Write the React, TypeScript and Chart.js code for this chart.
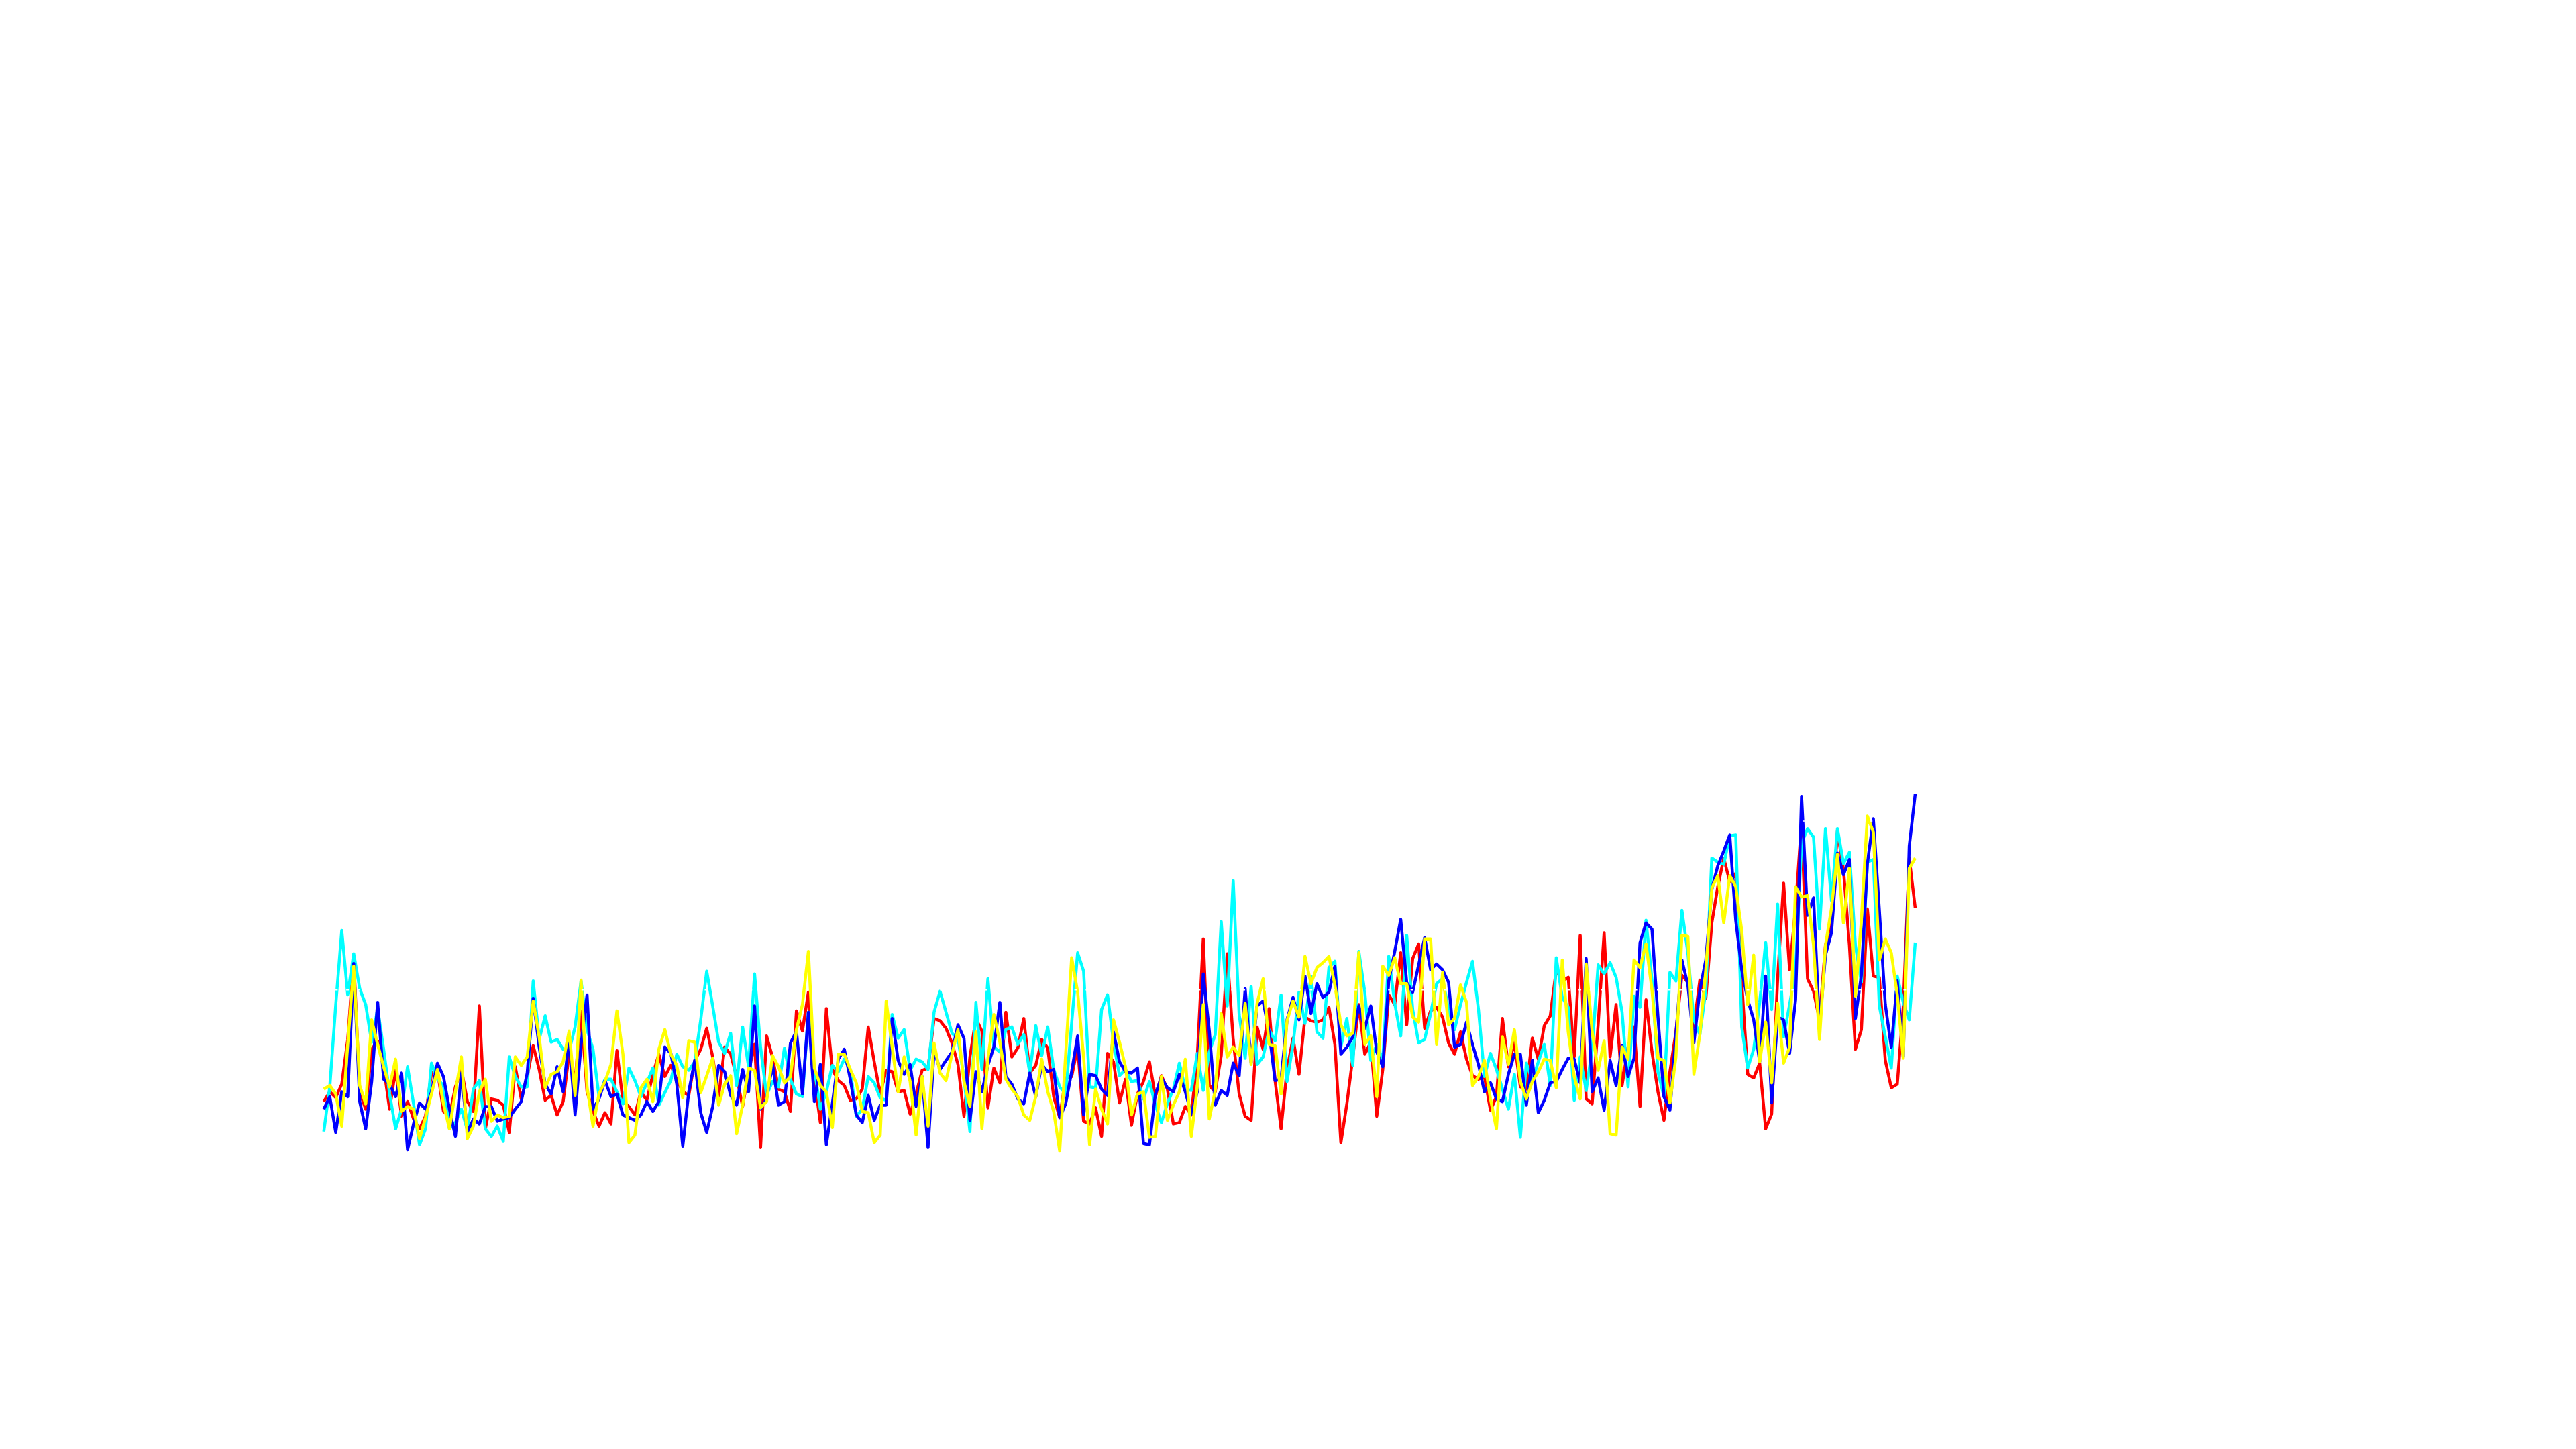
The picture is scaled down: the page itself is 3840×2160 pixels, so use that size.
import React, { useEffect, useRef } from "react";
import { Chart, registerables } from "chart.js";

Chart.register(...registerables);

// x categories: one per sample (267 samples)
const labels: string[] = Array.from({ length: 267 }, (_, i) => String(i + 1));

// horizontal white dashed reference lines (value units)
const gridValues = [13.3, 51.1, 88.9];

const blueSeries = [
  24.4, 27.2, 19.2, 28.3, 27.2, 57, 26.1, 20, 30.6, 48.3, 31.1, 30, 27.2, 32.5, 15.3, 21.1, 25.8, 24.4, 28.3, 34.7, 31.7, 24.4, 18.3, 32.5, 19.2, 22.2, 21.1, 25, 25, 21.7, 22.2, 22.5, 24.4, 26.1,
  32.5, 49.2, 38.3, 30, 27.8, 33.9, 28.3, 40, 23.1, 38.9, 50, 24.4, 26.7, 30.8, 27.2, 27.8, 23.1, 22.5, 21.9, 23.1, 26.1, 23.9, 26.1, 38.3, 36.9, 30, 16.1, 28.3, 35.3, 23.6, 19.2, 25, 34.2, 32.8,
  27.5, 25.3, 33.3, 28.3, 47.5, 24.4, 26.7, 34.4, 25.3, 26.1, 39.2, 41.9, 27.8, 46.1, 26.1, 34.4, 16.4, 25.6, 35.6, 37.8, 31.1, 23.1, 21.4, 27.5, 21.9, 25.3, 25.3, 44.7, 35.3, 32.2, 34.4, 25, 31.7,
  15.8, 37.5, 33.3, 35.3, 37.2, 43.3, 40.3, 21.9, 32.8, 28.3, 34.2, 38.3, 48.3, 31.7, 30, 26.7, 25.6, 32.5, 27.2, 34.4, 32.8, 33.3, 22.5, 25.6, 32.8, 40.8, 23.1, 32.2, 31.9, 28.9, 27.5, 41.7, 35, 32.8,
  32.5, 33.6, 16.7, 16.4, 27.8, 31.4, 29.2, 28.3, 32.2, 28.3, 23.3, 28.3, 54.7, 42, 25.3, 28.6, 27.5, 34.7, 31.9, 51.4, 34.7, 47.5, 48.6, 41.7, 30.8, 31.1, 44.4, 49.4, 44.4, 54.2, 45.8, 52.5, 49.4,
  50.6, 56.4, 36.7, 38.3, 40.6, 47.5, 42.5, 47.5, 37.2, 33.9, 53.1, 59.7, 66.9, 52.8, 50.6, 56.7, 62.8, 55.6, 56.9, 55.6, 52.8, 38.3, 38.9, 43.9, 38.9, 34.4, 28.3, 30.3, 26.7, 26.1, 32.2, 36.7, 36.7, 25.3,
  35.3, 23.6, 26.4, 30.3, 30.6, 33.3, 35.8, 35.6, 30.3, 58.1, 28.3, 31.4, 24.2, 35.3, 29.7, 38.6, 31.7, 35.8, 61.7, 66.1, 64.7, 45, 27.2, 24.2, 41.1, 57.8, 52.2, 39.2, 51.1, 57.8, 73.6, 78.9, 82.2, 85.8,
  66.7, 55.6, 48.9, 44.4, 35, 54.2, 25.8, 45, 44.4, 36.9, 48.9, 94.4, 67.8, 71.7, 42.8, 58.9, 63.9, 81.7, 76.9, 80.3, 44.7, 54.4, 79.4, 89.4, 68.9, 47.8, 38.3, 53.1, 36.1, 83.3, 95,
];

const redSeries = [
  26.1, 28.3, 27, 30, 40, 58.1, 28.3, 24.4, 37.8, 39.7, 33.9, 24.4, 33.3, 22.8, 26.1, 22.2, 20, 22.8, 32.5, 33.1, 23.9, 22.8, 29.4, 33.3, 26.1, 23.9, 47.5, 20, 26.7, 26.4, 25.3, 19.2, 33.9, 26.7,
  31.7, 38.6, 33.3, 26.4, 27.5, 23.1, 26.1, 36.7, 30.6, 46.4, 28.3, 23.9, 20.6, 23.6, 21.1, 37.5, 26.1, 25, 23.1, 28.3, 26.4, 32.2, 36.7, 31.7, 34.2, 31.1, 28.3, 27.5, 35.3, 37.8, 42.5, 36.1, 27.2, 38.3,
  36.7, 31.7, 25, 32.8, 38.9, 15.8, 40.8, 36.1, 28.9, 28.3, 23.9, 46.4, 41.9, 50.6, 31.1, 21.4, 46.9, 33.3, 30.8, 29.7, 26.4, 26.7, 28.9, 42.8, 35, 27.8, 33.1, 32.8, 28.3, 28.6, 23.3, 27.8, 33.1,
  33.6, 44.7, 44.2, 42.5, 39.2, 34.4, 22.8, 36.1, 44.7, 41.9, 24.7, 33.6, 30.3, 46.1, 36.1, 38.1, 44.7, 32.5, 34.2, 40, 38.1, 27.2, 22.5, 31.4, 31.7, 38.3, 21.7, 21.1, 24.7, 18.3, 36.9, 35, 25.8, 31.1,
  20.8, 27.8, 30.6, 35, 27.2, 31.9, 28.9, 21.1, 21.4, 25, 23.1, 36.1, 62.5, 29.7, 28.3, 36.4, 59.2, 40, 27.8, 22.8, 21.9, 42.8, 37.8, 46.9, 30.8, 20, 33.3, 40.3, 32.2, 45, 44.2, 43.9, 44.4,
  47.2, 38.9, 16.9, 25.6, 36.1, 47.8, 36.7, 39.4, 22.8, 33.3, 50, 47.8, 59.4, 43.3, 58.1, 61.4, 42.5, 46.4, 47.2, 45, 39.2, 36.7, 41.7, 35.6, 31.9, 31.1, 31.7, 24.2, 27.2, 44.7, 33.9, 39.4, 29.4, 28.9,
  40.3, 35.6, 43.1, 45.3, 55.6, 53.1, 53.9, 36.1, 63.3, 26.7, 25.6, 43.3, 63.9, 36.1, 47.8, 29.7, 38.3, 42.8, 25, 48.9, 37.2, 28.3, 21.9, 32.8, 41.7, 54.4, 52.8, 42.8, 53.3, 49.2, 66.1, 74.2, 80.6, 75.3,
  77.2, 52.8, 32.2, 31.4, 34.7, 20, 23.3, 53.6, 75, 55.6, 69.4, 88.6, 53.6, 50.8, 44.4, 61.1, 66.7, 86.7, 78.1, 61.1, 37.8, 42.2, 69.2, 54.2, 53.9, 35.3, 29.2, 30, 47.2, 80.6, 69.4,
];

const cyanSeries = [
  19.4, 29.4, 47.8, 64.4, 50, 59.2, 51.4, 47.8, 39.4, 46.9, 37.8, 27.8, 20, 24.4, 33.9, 25.6, 16.4, 20, 34.7, 31.1, 29.7, 20, 21.4, 24.4, 19.7, 28.9, 30.8, 20, 18.3, 20.6, 17.2, 36.1, 31.7, 29.4,
  29.4, 53.1, 40, 45.3, 39.4, 40, 37.8, 37.5, 42.8, 53.1, 42.2, 37.8, 27.2, 31.1, 31.1, 28.3, 25.6, 33.6, 30.8, 27.2, 30.3, 33.6, 25.3, 28.1, 30.8, 36.7, 33.9, 33.1, 35, 44.4, 55.3, 47.5, 39.4, 36.9,
  41.4, 29.7, 42.8, 33.9, 54.7, 38.3, 27.5, 30.6, 29.4, 38.1, 31.1, 27.8, 27.2, 46.1, 33.3, 24.4, 28.3, 34.2, 32.8, 35.6, 33.3, 22.8, 24.4, 31.7, 30.3, 26.9, 26.4, 45.6, 40.3, 42.2, 33.1, 35.6, 35,
  33.3, 46.1, 50.8, 46.1, 41.4, 40.3, 31.4, 19.4, 48.3, 33.3, 53.6, 38.3, 37.2, 42.2, 42.8, 38.9, 41.1, 32.5, 43.1, 36.4, 42.8, 33.3, 29.4, 27.8, 43.6, 59.4, 55.3, 29.4, 29.2, 46.7, 50, 39.4, 31.9, 33.3,
  30.6, 30.8, 26.7, 30.6, 25.3, 21.4, 25.6, 28.9, 34.7, 28.9, 28.6, 36.9, 28.6, 37.2, 41.1, 66.4, 47.5, 75.6, 45.6, 35.8, 51.9, 34.4, 36.1, 42.2, 39.7, 50, 30.6, 38.9, 50.6, 43.6, 54.2, 41.7, 40.3,
  56.1, 57.5, 38.3, 44.7, 34.2, 59.7, 50.6, 35.3, 38.9, 35.3, 58.6, 48.1, 40.8, 63.3, 46.7, 39.2, 40, 45.8, 52.5, 53.6, 46.7, 42.2, 47.8, 52.8, 57.5, 46.7, 31.7, 36.9, 33.3, 28.9, 24.4, 32.2, 18.1, 34.7,
  30.8, 35, 38.9, 29.7, 58.3, 49.4, 47.2, 26.4, 36.1, 28.6, 37.8, 56.7, 54.7, 57.2, 53.9, 46.1, 29.4, 49.7, 47.2, 66.7, 53.3, 32.8, 27.2, 55, 53.1, 68.9, 59.4, 44.4, 41.1, 51.1, 80.6, 79.7, 79.2, 85.6,
  85.8, 42.8, 33.6, 37.8, 48.3, 61.7, 46.7, 70.3, 40.6, 47.8, 55.6, 83.9, 87.2, 85.3, 64.7, 87.2, 71.1, 87.2, 79.4, 81.9, 61.1, 52.8, 79.7, 80.3, 47.5, 40.6, 33.6, 54.2, 48.3, 44.4, 61.7,
];

const yellowSeries = [
  28.9, 29.7, 27.8, 20.6, 38.9, 56.4, 29.7, 25.6, 44.4, 38.9, 33.9, 29.4, 35.6, 23.9, 25, 24.4, 17.8, 22.5, 27.8, 33.3, 25.6, 20, 28.3, 36.1, 17.8, 20.6, 28.3, 31.1, 21.7, 23.1, 22.5, 22.8, 36.1, 34.2,
  36.1, 48.6, 40.6, 29.2, 32.2, 32.8, 35, 41.9, 27.5, 53.3, 29.4, 20.6, 27.8, 30.6, 34.4, 46.4, 36.7, 16.9, 18.6, 29.2, 31.1, 26.1, 37.8, 42.2, 36.7, 34.2, 26.9, 39.7, 39.4, 28.1, 31.9, 35.8, 25.3, 30,
  31.9, 18.9, 25.3, 33.6, 33.1, 24.7, 26.1, 36.4, 33.9, 30.3, 31.7, 42.2, 47.8, 59.7, 33.6, 29.7, 28.3, 20.3, 36.7, 36.7, 33.3, 30.3, 23.9, 23.6, 16.9, 18.6, 48.6, 38.3, 28.3, 36.1, 30.6, 18.6, 31.7,
  20.6, 39.2, 32.5, 30.8, 36.7, 42.2, 30.6, 25, 41.7, 20, 35.6, 45.6, 39.4, 31.1, 28.9, 27.2, 23.1, 21.9, 27.2, 35.6, 28.3, 23.9, 15, 36.7, 58.3, 50.6, 36.1, 16.4, 28.9, 24.4, 21.1, 44.4, 39.4, 33.9,
  23.1, 27.8, 28.3, 18.1, 18.3, 31.7, 21.9, 25.3, 28.3, 35.6, 18.3, 29.4, 47.8, 22.2, 28.6, 45.8, 36.1, 38.3, 36.4, 48.1, 34.4, 48.1, 53.6, 38.9, 38.6, 27.8, 44.2, 48.6, 45, 58.6, 52.5, 56.1, 57.2,
  58.6, 52.2, 43.3, 40.8, 41.4, 59.4, 38.9, 40.8, 27.2, 56.4, 54.4, 58.3, 52.5, 52.5, 45, 43.9, 62.5, 62.5, 38.9, 55, 43.3, 44.7, 52.2, 48.3, 29.7, 31.7, 35.3, 26.7, 20, 40.6, 34.4, 42.2, 30.6, 26.7,
  30.6, 32.8, 35.6, 35.3, 29.2, 57.8, 41.7, 31.7, 26.7, 56.9, 41.7, 33.1, 39.7, 18.9, 18.6, 38.3, 35.6, 57.8, 56.1, 61.4, 51.1, 35.8, 35.3, 25.8, 36.1, 63.3, 63.1, 32.2, 41.1, 55.6, 73.9, 76.7, 66.1, 76.7,
  74.2, 64.4, 47.8, 58.9, 35, 43.9, 30.3, 48.1, 34.7, 38.3, 74.2, 71.9, 72.2, 61.1, 40, 61.1, 69.4, 81.4, 66.1, 78.3, 49.7, 66.7, 90, 86.4, 57.8, 62.5, 59.4, 50, 35.8, 78.3, 80.6,
];

const whiteDashPlugin = {
  id: "whiteDash",
  afterDatasetsDraw(chart: any) {
    const { ctx, chartArea, scales } = chart;
    const y = scales.y;
    ctx.save();
    ctx.strokeStyle = "#ffffff";
    ctx.lineWidth = 1.5;
    ctx.setLineDash([4, 12.7]);
    for (const v of gridValues) {
      const py = y.getPixelForValue(v);
      ctx.beginPath();
      ctx.moveTo(chartArea.left, py);
      ctx.lineTo(chartArea.right, py);
      ctx.stroke();
    }
    ctx.restore();
  },
};

export default function App() {
  const canvasRef = useRef<HTMLCanvasElement | null>(null);

  useEffect(() => {
    if (!canvasRef.current) return;
    const mk = (data: number[], color: string) => ({
      data,
      borderColor: color,
      backgroundColor: color,
      borderWidth: 4.5,
      pointRadius: 0,
      pointHoverRadius: 0,
      tension: 0,
      fill: false,
      borderJoinStyle: "round" as const,
      clip: false as any,
    });
    const chart = new Chart(canvasRef.current, {
      type: "line",
      data: {
        labels,
        datasets: [
          mk(yellowSeries, "#ffff00"),
          mk(blueSeries, "#0000ff"),
          mk(cyanSeries, "#00ffff"),
          mk(redSeries, "#ff0000"),
        ],
      },
      options: {
        animation: false,
        responsive: false,
        devicePixelRatio: 1,
        events: [],
        layout: {
          padding: { left: 482.7, right: 985, top: 1150, bottom: 344.1 },
        },
        plugins: {
          legend: { display: false },
          tooltip: { enabled: false },
          title: { display: false },
        },
        scales: {
          x: { display: false, offset: false },
          y: { display: false, min: 0, max: 100 },
        },
      },
      plugins: [whiteDashPlugin],
    });
    return () => chart.destroy();
  }, []);

  return (
    <div style={{ position: "fixed", left: 0, top: 0, width: 3840, height: 2160, background: "#ffffff" }}>
      <canvas ref={canvasRef} width={3840} height={2160} style={{ width: 3840, height: 2160, display: "block" }} />
    </div>
  );
}
